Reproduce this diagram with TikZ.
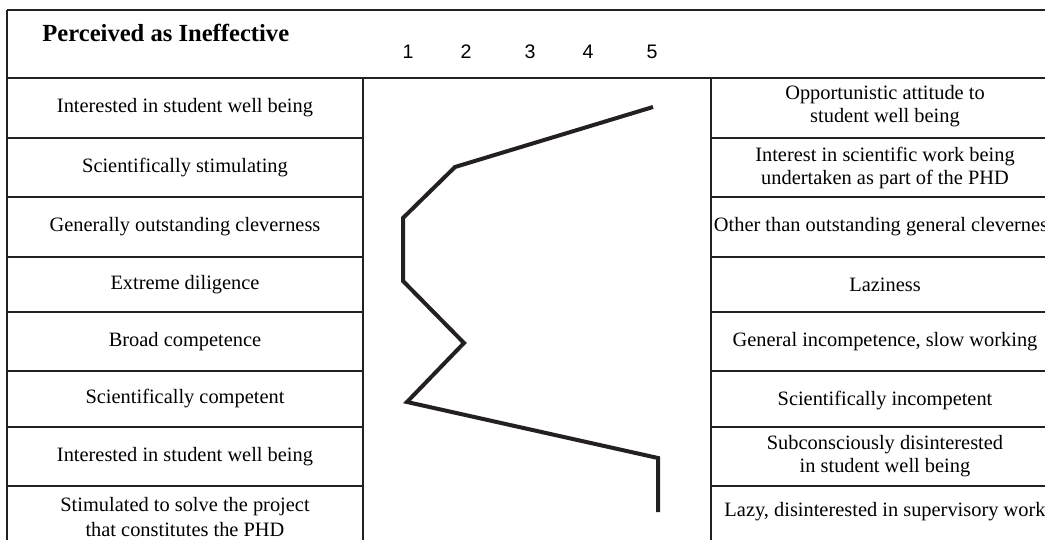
\documentclass[tikz,border=0pt]{standalone}
\usepackage{fontspec}
\setmainfont{Liberation Serif}
\newfontfamily\numfont{Liberation Sans}
\definecolor{lineA}{rgb}{0.14,0.12,0.13}

\begin{document}
\begin{tikzpicture}[x=0.5pt, y=-0.5pt, line join=miter,
  rule/.style={lineA, line width=0.8pt},
  cell/.style={align=center, inner sep=0pt, font=\fontsize{10.2}{11.2}\selectfont},
  scalenum/.style={inner sep=0pt, font=\numfont\fontsize{9.8}{10}\selectfont},
  profile/.style={lineA, line width=2pt}]
\useasboundingbox (0,0) rectangle (1045,540);
% 框线
\draw[rule, line width=1pt] (7,10) -- (1045,10);
\draw[rule] (7,78) -- (1045,78);
\draw[rule] (7,10) -- (7,540);
\draw[rule] (363,78) -- (363,540);
\draw[rule] (711,78) -- (711,540);
\foreach \y in {138,197,257,312,371,427,486} {
  \draw[rule] (7,\y) -- (363,\y);
  \draw[rule] (711,\y) -- (1045,\y);
}
% 表头
\node[anchor=west, inner sep=0pt, font=\bfseries\fontsize{12.3}{13}\selectfont] (head) at (42,33) {Perceived as Ineffective};
\foreach \k/\x in {1/408,2/466,3/530,4/588,5/652}
  \node[scalenum] (n\k) at (\x,52) {\k};
% 左列
\foreach \i/\y/\t in {1/108/{Interested in student well being},
    2/167.5/{Scientifically stimulating},
    3/227/{Generally outstanding cleverness},
    4/284.5/{Extreme diligence},
    5/341.5/{Broad competence},
    6/399/{Scientifically competent},
    7/456.5/{Interested in student well being},
    8/517/{Stimulated to solve the project\\[1pt] that constitutes the PHD}}
  \node[cell] (L\i) at (185,\y) {\t};
% 右列
\foreach \i/\y/\t in {1/106/{Opportunistic attitude to\\ student well being},
    2/168/{Interest in scientific work being\\ undertaken as part of the PHD},
    3/227/{Other than outstanding general cleverness},
    4/284.5/{Laziness},
    5/341.5/{General incompetence, slow working},
    6/401/{Scientifically incompetent},
    7/456/{Subconsciously disinterested\\ in student well being},
    8/512/{Lazy, disinterested in supervisory work}}
  \node[cell] (R\i) at (885,\y) {\t};
% 评分曲线
\coordinate (p1) at (653,107);
\coordinate (p2) at (455,167);
\coordinate (p3) at (403,218);
\coordinate (p4) at (403,281);
\coordinate (p5) at (464,343);
\coordinate (p6) at (407,402);
\coordinate (p7) at (658,458);
\coordinate (p8) at (658,512);
\draw[profile] (p1) -- (p2) -- (p3) -- (p4) -- (p5) -- (p6) -- (p7) -- (p8);
\end{tikzpicture}
\end{document}
